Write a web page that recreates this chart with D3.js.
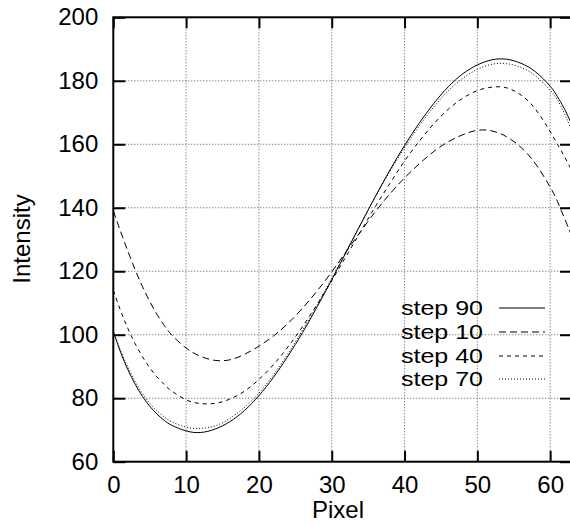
<!DOCTYPE html>
<html><head><meta charset="utf-8">
<script src="https://cdn.jsdelivr.net/npm/d3@7"></script>
<style>body{margin:0;background:#fff}svg{display:block}text{font-family:"Liberation Sans",Arial,sans-serif;fill:#000}</style>
</head><body><svg id="c" width="570" height="525"></svg>
<script>
const pixels = [0,1,2,3,4,5,6,7,8,10,12,14,16,18,20,22,24,26,28,30,32,34,36,38,40,42,44,46,48,50,52,54,56,58,60,61,62,63];
const step90 = [101,94.5,89,84.4,80.6,77.5,75,73,71.5,69.7,69.2,70.3,72.6,76.1,80.8,86.6,93.3,100.7,108.8,117.3,126.1,134.9,143.6,151.9,159.6,166.6,172.8,178.1,182.2,185,186.6,186.8,185.5,182.8,178.3,175,171,166];
const step10 = [139,132.5,126.3,120.5,115.2,110.5,106.4,102.9,100,95.8,93.2,91.9,92.1,93.8,96.4,99.6,103.6,108.4,113.8,119.8,126.2,132.6,138.8,144.4,149.4,153.8,157.7,160.8,163,164.4,164.2,162.4,159,153.8,146.5,142,136.5,131];
const step40 = [114,107.6,102,97.2,93.1,89.6,86.7,84.3,82.3,79.5,78.3,78.4,79.7,82.2,85.9,90.6,96.2,102.6,109.6,117,124.8,132.6,140.4,147.7,154.7,160.9,166.4,171,174.5,176.9,178,177.8,175.5,171,164,160,156,151.5];
const step70 = [101,95,89.8,85.3,81.5,78.4,76,74.1,72.6,70.9,70.5,71.3,73.6,77.1,81.6,87.4,94.1,101.5,109.4,117.8,126.4,135,143.4,151.5,158.9,165.7,171.7,176.8,180.8,183.6,185.2,185.4,184.2,181.5,177,174,169.5,164];
const seriesNames = ["step 90","step 10","step 40","step 70"];
const seriesData = [step90, step10, step40, step70];
const dashes = [null, "7,4", "4,4", "1,2"];
const xTicks = [0,10,20,30,40,50,60];
const yTicks = [60,80,100,120,140,160,180,200];

const L=113.3, R=572, T=17.3, B=461.7;
const svg = d3.select("#c");
const x = d3.scaleLinear().domain([0,63]).range([L,R]);
const y = d3.scaleLinear().domain([60,200]).range([B,T]);
const FS = 24;

// grid
const g = svg.append("g");
g.selectAll(".vx").data(xTicks.filter(d=>d>0)).enter().append("line")
 .attr("x1",d=>x(d)).attr("x2",d=>x(d)).attr("y1",T).attr("y2",B)
 .attr("stroke","#555").attr("stroke-width",1).attr("stroke-dasharray","1,2");
g.selectAll(".hy").data(yTicks.filter(d=>d>60&&d<200)).enter().append("line")
 .attr("x1",L).attr("x2",R).attr("y1",d=>y(d)).attr("y2",d=>y(d))
 .attr("stroke","#555").attr("stroke-width",1).attr("stroke-dasharray","1,2");

// curves
svg.append("clipPath").attr("id","cp").append("rect").attr("x",L).attr("y",T).attr("width",R-L).attr("height",B-T);
const line = d3.line().x((d,i)=>x(pixels[i])).y(d=>y(d)).curve(d3.curveNatural);
seriesData.forEach((s,k)=>{
  svg.append("path").attr("d",line(s)).attr("fill","none").attr("stroke","#000")
   .attr("stroke-width",1).attr("stroke-dasharray",dashes[k]).attr("clip-path","url(#cp)");
});

// axes
const axB = svg.append("g").attr("transform",`translate(0,${B})`)
  .call(d3.axisBottom(x).tickValues(xTicks).tickSizeInner(-11).tickSizeOuter(0).tickPadding(14));
const axT = svg.append("g").attr("transform",`translate(0,${T})`)
  .call(d3.axisTop(x).tickValues(xTicks).tickSizeInner(-11).tickSizeOuter(0).tickFormat(""));
const axL = svg.append("g").attr("transform",`translate(${L},0)`)
  .call(d3.axisLeft(y).tickValues(yTicks).tickSizeInner(-12).tickSizeOuter(0).tickPadding(15));
const axR = svg.append("g").attr("transform",`translate(${R},0)`)
  .call(d3.axisRight(y).tickValues(yTicks).tickSizeInner(-12).tickSizeOuter(0).tickFormat(""));
[axB,axT,axL,axR].forEach(a=>{
  a.select(".domain").remove();
  a.selectAll("line").attr("stroke","#000").attr("stroke-width",2);
  a.selectAll("text").attr("font-size",FS).attr("font-family","Liberation Sans, Arial, sans-serif").attr("fill","#000");
});
svg.append("rect").attr("x",L).attr("y",T).attr("width",R-L).attr("height",B-T)
  .attr("fill","none").attr("stroke","#000").attr("stroke-width",2);

// axis titles
svg.append("text").attr("x",338).attr("y",518).attr("text-anchor","middle").attr("font-size",FS).text("Pixel");
svg.append("text").attr("transform","translate(30,239) rotate(-90)").attr("text-anchor","middle").attr("font-size",FS).text("Intensity");

// legend
const legY = [308,332,356,379];
seriesNames.forEach((n,k)=>{
  svg.append("text").attr("x",483).attr("y",legY[k]).attr("dy","0.35em").attr("text-anchor","end")
    .attr("font-size",21).attr("textLength",82).attr("lengthAdjust","spacingAndGlyphs").text(n);
  svg.append("line").attr("x1",499).attr("x2",545).attr("y1",legY[k]).attr("y2",legY[k])
    .attr("stroke","#000").attr("stroke-width",1).attr("stroke-dasharray",dashes[k]);
});
</script></body></html>
